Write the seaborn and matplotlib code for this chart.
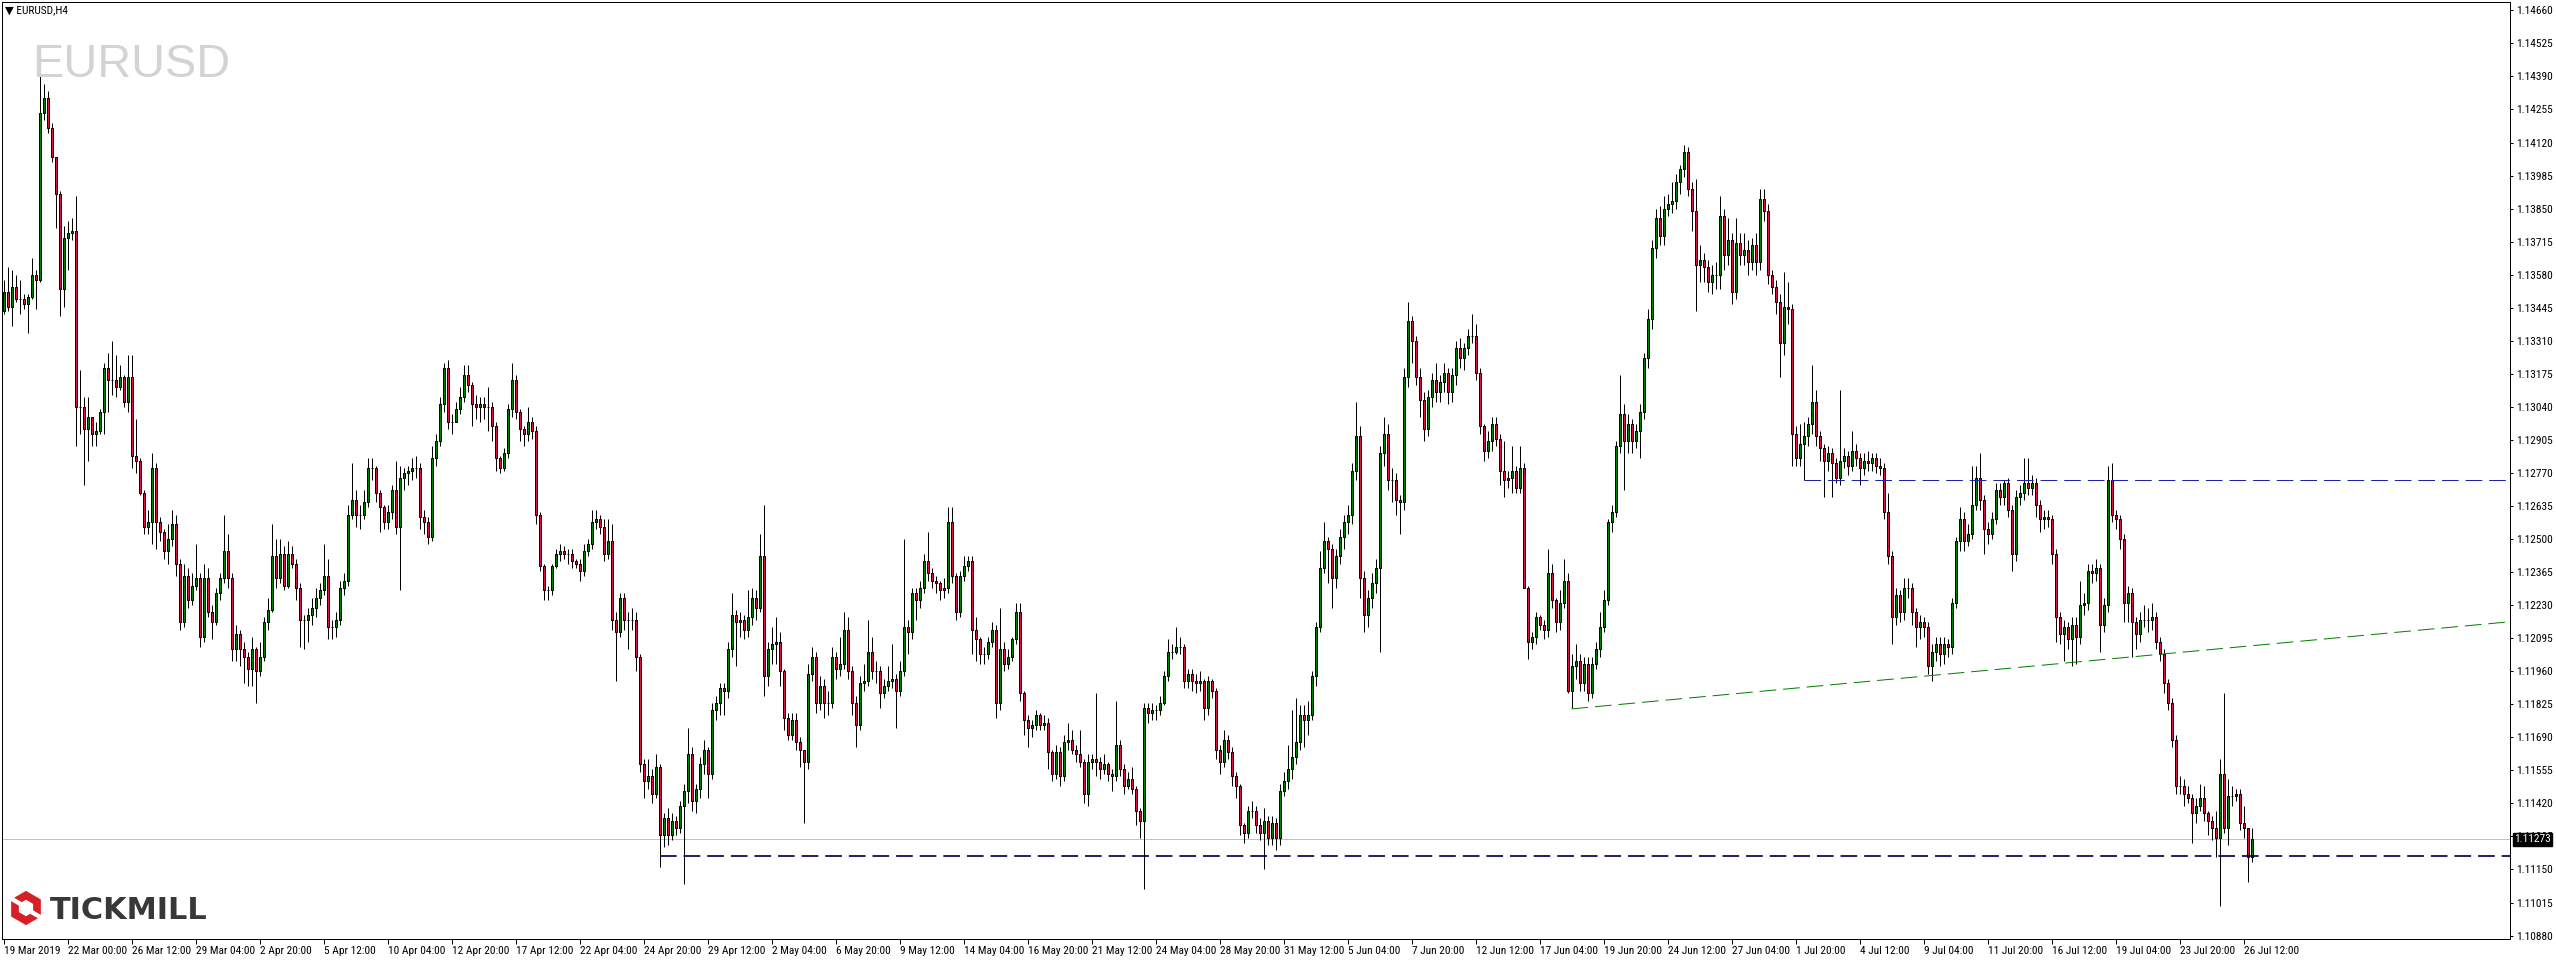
import numpy as np
import pandas as pd
import matplotlib
matplotlib.use("Agg")
import matplotlib.pyplot as plt
import seaborn as sns
from matplotlib import font_manager as fm
from matplotlib.patches import Polygon

# ---------------- data (EURUSD H4) ----------------
first_open = 1.1343
close = [
1.1351,1.1345,1.1353,1.1348,1.1348,1.1346,1.1349,1.1358,1.1356,1.1424,
1.1430,1.1418,1.1406,1.1391,1.1352,1.1373,1.1375,1.1376,1.1304,1.1304,
1.1295,1.1300,1.1293,1.1294,1.1302,1.1320,1.1315,1.1315,1.1312,1.1316,
1.1306,1.1316,1.1284,1.1282,1.1269,1.1255,1.1257,1.1279,1.1257,1.1253,
1.1245,1.1250,1.1256,1.1240,1.1216,1.1235,1.1225,1.1231,1.1234,1.1210,
1.1234,1.1220,1.1216,1.1228,1.1234,1.1245,1.1234,1.1205,1.1211,1.1205,
1.1202,1.1197,1.1205,1.1196,1.1202,1.1216,1.1221,1.1243,1.1234,1.1244,
1.1231,1.1244,1.1240,1.1230,1.1217,1.1217,1.1219,1.1222,1.1226,1.1229,
1.1235,1.1214,1.1214,1.1217,1.1230,1.1233,1.1260,1.1266,1.1260,1.1260,
1.1265,1.1279,1.1279,1.1269,1.1263,1.1257,1.1261,1.1270,1.1255,1.1275,
1.1277,1.1278,1.1279,1.1279,1.1259,1.1257,1.1251,1.1283,1.1290,1.1305,
1.1320,1.1298,1.1298,1.1303,1.1308,1.1317,1.1313,1.1305,1.1304,1.1305,
1.1304,1.1304,1.1296,1.1283,1.1279,1.1285,1.1303,1.1315,1.1302,1.1295,
1.1293,1.1298,1.1294,1.1260,1.1239,1.1229,1.1229,1.1239,1.1244,1.1245,
1.1244,1.1244,1.1241,1.1240,1.1237,1.1245,1.1248,1.1257,1.1258,1.1255,
1.1244,1.1249,1.1217,1.1212,1.1226,1.1217,1.1217,1.1217,1.1202,1.1158,
1.1151,1.1153,1.1146,1.1157,1.1129,1.1136,1.1129,1.1135,1.1132,1.1141,
1.1147,1.1162,1.1143,1.1148,1.1158,1.1164,1.1154,1.1180,1.1183,1.1189,
1.1188,1.1205,1.1219,1.1216,1.1217,1.1213,1.1218,1.1226,1.1222,1.1243,
1.1194,1.1205,1.1207,1.1208,1.1196,1.1177,1.1170,1.1176,1.1167,1.1164,
1.1159,1.1195,1.1202,1.1183,1.1190,1.1183,1.1183,1.1202,1.1197,1.1199,
1.1213,1.1196,1.1183,1.1174,1.1191,1.1192,1.1204,1.1196,1.1196,1.1187,
1.1190,1.1192,1.1193,1.1188,1.1196,1.1214,1.1212,1.1228,1.1225,1.1230,
1.1241,1.1236,1.1233,1.1232,1.1229,1.1230,1.1257,1.1235,1.1220,1.1235,
1.1239,1.1241,1.1213,1.1209,1.1203,1.1203,1.1208,1.1213,1.1183,1.1205,
1.1199,1.1202,1.1209,1.1220,1.1187,1.1176,1.1173,1.1174,1.1178,1.1174,
1.1175,1.1163,1.1154,1.1163,1.1153,1.1167,1.1168,1.1164,1.1162,1.1159,
1.1146,1.1159,1.1160,1.1159,1.1156,1.1158,1.1154,1.1153,1.1166,1.1156,
1.1149,1.1152,1.1148,1.1139,1.1135,1.1181,1.1179,1.1180,1.1180,1.1183,
1.1194,1.1204,1.1204,1.1206,1.1206,1.1192,1.1195,1.1192,1.1191,1.1192,
1.1181,1.1192,1.1188,1.1164,1.1159,1.1168,1.1163,1.1153,1.1149,1.1133,
1.1130,1.1139,1.1139,1.1133,1.1130,1.1135,1.1128,1.1134,1.1128,1.1147,
1.1151,1.1156,1.1161,1.1167,1.1178,1.1176,1.1178,1.1194,1.1214,1.1238,
1.1249,1.1246,1.1234,1.1243,1.1251,1.1257,1.1260,1.1278,1.1292,1.1234,
1.1219,1.1226,1.1232,1.1238,1.1285,1.1293,1.1274,1.1274,1.1266,1.1265,
1.1316,1.1339,1.1331,1.1316,1.1307,1.1295,1.1308,1.1315,1.1310,1.1314,
1.1318,1.1310,1.1317,1.1328,1.1324,1.1328,1.1333,1.1333,1.1318,1.1296,
1.1286,1.1290,1.1297,1.1291,1.1278,1.1274,1.1275,1.1278,1.1271,1.1279,
1.1230,1.1208,1.1210,1.1218,1.1215,1.1213,1.1236,1.1225,1.1216,1.1224,
1.1233,1.1188,1.1198,1.1200,1.1191,1.1199,1.1187,1.1199,1.1205,1.1214,
1.1225,1.1257,1.1261,1.1288,1.1301,1.1290,1.1297,1.1290,1.1294,1.1302,
1.1324,1.1340,1.1369,1.1381,1.1374,1.1385,1.1387,1.1388,1.1396,1.1401,
1.1408,1.1393,1.1384,1.1362,1.1364,1.1361,1.1355,1.1358,1.1358,1.1382,
1.1366,1.1372,1.1351,1.1371,1.1366,1.1368,1.1363,1.1370,1.1363,1.1389,
1.1384,1.1358,1.1353,1.1347,1.1330,1.1345,1.1344,1.1293,1.1283,1.1289,
1.1292,1.1297,1.1306,1.1292,1.1287,1.1282,1.1285,1.1281,1.1275,1.1282,
1.1284,1.1280,1.1286,1.1283,1.1279,1.1282,1.1281,1.1283,1.1280,1.1279,
1.1261,1.1243,1.1218,1.1227,1.1220,1.1230,1.1230,1.1220,1.1214,1.1216,
1.1214,1.1198,1.1204,1.1207,1.1203,1.1207,1.1206,1.1224,1.1249,1.1258,
1.1249,1.1252,1.1264,1.1275,1.1266,1.1254,1.1252,1.1258,1.1270,1.1267,
1.1273,1.1262,1.1244,1.1267,1.1269,1.1273,1.1271,1.1273,1.1264,1.1258,
1.1259,1.1258,1.1244,1.1218,1.1211,1.1214,1.1209,1.1215,1.1210,1.1223,
1.1224,1.1237,1.1236,1.1238,1.1215,1.1223,1.1274,1.1260,1.1258,1.1250,
1.1224,1.1228,1.1216,1.1211,1.1217,1.1217,1.1217,1.1218,1.1208,1.1203,
1.1191,1.1183,1.1168,1.1149,1.1149,1.1146,1.1144,1.1138,1.1141,1.1144,
1.1138,1.1135,1.1132,1.1128,1.1154,1.1132,1.1145,1.1145,1.1146,1.1134,
1.1132,1.1120,1.11273]
high = [
1.1356,1.1361,1.1360,1.1358,1.1356,1.1350,1.1350,1.1365,1.1360,1.1447,
1.1436,1.1433,1.1420,1.1406,1.1392,1.1378,1.1380,1.1381,1.1390,1.1319,
1.1308,1.1308,1.1299,1.1298,1.1303,1.1322,1.1326,1.1331,1.1325,1.1321,
1.1317,1.1325,1.1325,1.1299,1.1283,1.1270,1.1262,1.1285,1.1281,1.1259,
1.1254,1.1256,1.1262,1.1260,1.1242,1.1240,1.1238,1.1236,1.1248,1.1236,
1.1240,1.1238,1.1223,1.1230,1.1236,1.1260,1.1252,1.1236,1.1215,1.1213,
1.1208,1.1204,1.1210,1.1206,1.1208,1.1218,1.1226,1.1256,1.1250,1.1250,
1.1247,1.1249,1.1247,1.1242,1.1232,1.1219,1.1222,1.1226,1.1230,1.1232,
1.1248,1.1242,1.1217,1.1220,1.1233,1.1236,1.1264,1.1281,1.1270,1.1264,
1.1270,1.1283,1.1283,1.1280,1.1270,1.1264,1.1264,1.1272,1.1282,1.1280,
1.1279,1.1280,1.1283,1.1284,1.1281,1.1262,1.1259,1.1288,1.1293,1.1308,
1.1322,1.1323,1.1301,1.1306,1.1312,1.1321,1.1321,1.1314,1.1309,1.1308,
1.1308,1.1312,1.1306,1.1298,1.1284,1.1287,1.1305,1.1322,1.1317,1.1303,
1.1296,1.1304,1.1300,1.1296,1.1261,1.1240,1.1231,1.1240,1.1246,1.1248,
1.1247,1.1246,1.1246,1.1242,1.1242,1.1248,1.1250,1.1262,1.1262,1.1260,
1.1258,1.1258,1.1256,1.1220,1.1228,1.1228,1.1220,1.1222,1.1220,1.1203,
1.1160,1.1160,1.1156,1.1162,1.1158,1.1138,1.1140,1.1138,1.1137,1.1143,
1.1150,1.1173,1.1165,1.1150,1.1161,1.1168,1.1165,1.1183,1.1186,1.1191,
1.1191,1.1208,1.1228,1.1221,1.1220,1.1219,1.1229,1.1230,1.1229,1.1252,
1.1264,1.1208,1.1214,1.1218,1.1212,1.1197,1.1179,1.1179,1.1179,1.1169,
1.1164,1.1199,1.1206,1.1204,1.1194,1.1193,1.1188,1.1206,1.1204,1.1210,
1.1220,1.1218,1.1198,1.1186,1.1194,1.1199,1.1217,1.1210,1.1200,1.1198,
1.1193,1.1198,1.1207,1.1195,1.1200,1.1250,1.1217,1.1230,1.1230,1.1233,
1.1244,1.1253,1.1238,1.1235,1.1233,1.1234,1.1263,1.1263,1.1236,1.1237,
1.1243,1.1243,1.1243,1.1218,1.1210,1.1206,1.1210,1.1216,1.1215,1.1222,
1.1208,1.1205,1.1210,1.1224,1.1224,1.1188,1.1178,1.1176,1.1180,1.1179,
1.1178,1.1177,1.1164,1.1166,1.1165,1.1170,1.1175,1.1172,1.1166,1.1172,
1.1160,1.1162,1.1162,1.1187,1.1161,1.1162,1.1159,1.1156,1.1184,1.1168,
1.1158,1.1155,1.1157,1.1149,1.1140,1.1183,1.1183,1.1183,1.1182,1.1186,
1.1196,1.1209,1.1207,1.1214,1.1210,1.1207,1.1197,1.1197,1.1195,1.1196,
1.1193,1.1194,1.1193,1.1189,1.1166,1.1172,1.1170,1.1165,1.1155,1.1150,
1.1134,1.1141,1.1143,1.1141,1.1136,1.1140,1.1137,1.1137,1.1136,1.1150,
1.1155,1.1166,1.1180,1.1185,1.1182,1.1182,1.1184,1.1196,1.1216,1.1245,
1.1257,1.1251,1.1248,1.1246,1.1254,1.1260,1.1264,1.1281,1.1306,1.1296,
1.1237,1.1229,1.1236,1.1242,1.1288,1.1300,1.1297,1.1279,1.1277,1.1268,
1.1320,1.1347,1.1341,1.1333,1.1320,1.1310,1.1311,1.1318,1.1322,1.1317,
1.1322,1.1320,1.1320,1.1331,1.1332,1.1330,1.1336,1.1342,1.1338,1.1320,
1.1297,1.1294,1.1300,1.1300,1.1293,1.1290,1.1278,1.1288,1.1280,1.1288,
1.1281,1.1231,1.1212,1.1220,1.1219,1.1217,1.1246,1.1240,1.1226,1.1229,
1.1242,1.1236,1.1203,1.1207,1.1203,1.1202,1.1202,1.1202,1.1208,1.1220,
1.1229,1.1258,1.1264,1.1290,1.1317,1.1305,1.1301,1.1299,1.1297,1.1305,
1.1326,1.1344,1.1372,1.1385,1.1386,1.1390,1.1391,1.1396,1.1399,1.1403,
1.1411,1.1410,1.1396,1.1397,1.1370,1.1367,1.1364,1.1362,1.1363,1.1390,
1.1385,1.1381,1.1375,1.1381,1.1375,1.1375,1.1372,1.1373,1.1375,1.1393,
1.1393,1.1387,1.1360,1.1356,1.1350,1.1359,1.1355,1.1346,1.1296,1.1297,
1.1298,1.1300,1.1321,1.1311,1.1294,1.1289,1.1288,1.1287,1.1283,1.1311,
1.1287,1.1286,1.1294,1.1289,1.1285,1.1285,1.1286,1.1285,1.1285,1.1283,
1.1281,1.1269,1.1245,1.1230,1.1229,1.1234,1.1234,1.1232,1.1222,1.1219,
1.1218,1.1216,1.1207,1.1210,1.1210,1.1210,1.1209,1.1226,1.1251,1.1263,
1.1261,1.1256,1.1280,1.1280,1.1285,1.1268,1.1257,1.1261,1.1273,1.1273,
1.1274,1.1275,1.1264,1.1270,1.1272,1.1283,1.1283,1.1276,1.1275,1.1266,
1.1262,1.1262,1.1260,1.1246,1.1220,1.1217,1.1216,1.1218,1.1218,1.1233,
1.1228,1.1240,1.1240,1.1242,1.1240,1.1226,1.1280,1.1281,1.1262,1.1260,
1.1252,1.1231,1.1230,1.1218,1.1220,1.1223,1.1222,1.1224,1.1220,1.1210,
1.1205,1.1193,1.1185,1.1170,1.1153,1.1152,1.1149,1.1146,1.1144,1.1150,
1.1149,1.1139,1.1137,1.1139,1.1160,1.1187,1.1152,1.1149,1.1148,1.1148,
1.1141,1.1132,1.1132]
low = [
1.1342,1.1343,1.1337,1.1347,1.1342,1.1344,1.1334,1.1348,1.1344,1.1355,
1.1421,1.1416,1.1404,1.1377,1.1341,1.1345,1.1360,1.1372,1.1288,1.1293,
1.1272,1.1282,1.1288,1.1288,1.1293,1.1293,1.1302,1.1309,1.1308,1.1311,
1.1304,1.1302,1.1279,1.1277,1.1268,1.1252,1.1252,1.1248,1.1246,1.1249,
1.1242,1.1240,1.1247,1.1235,1.1213,1.1214,1.1222,1.1223,1.1229,1.1206,
1.1208,1.1218,1.1209,1.1215,1.1225,1.1232,1.1230,1.1200,1.1200,1.1198,
1.1191,1.1190,1.1190,1.1183,1.1194,1.1200,1.1213,1.1220,1.1230,1.1232,
1.1229,1.1230,1.1238,1.1225,1.1206,1.1205,1.1208,1.1215,1.1218,1.1223,
1.1227,1.1209,1.1209,1.1210,1.1215,1.1227,1.1231,1.1258,1.1255,1.1254,
1.1258,1.1263,1.1274,1.1265,1.1253,1.1254,1.1254,1.1258,1.1252,1.1229,
1.1270,1.1272,1.1274,1.1275,1.1254,1.1252,1.1248,1.1249,1.1280,1.1288,
1.1302,1.1295,1.1293,1.1299,1.1301,1.1306,1.1310,1.1296,1.1299,1.1298,
1.1299,1.1294,1.1290,1.1278,1.1277,1.1278,1.1283,1.1300,1.1299,1.1290,
1.1288,1.1290,1.1291,1.1256,1.1237,1.1225,1.1225,1.1227,1.1238,1.1241,
1.1242,1.1240,1.1238,1.1238,1.1233,1.1235,1.1243,1.1246,1.1254,1.1252,
1.1241,1.1242,1.1213,1.1192,1.1210,1.1213,1.1205,1.1213,1.1196,1.1155,
1.1144,1.1148,1.1142,1.1144,1.1116,1.1124,1.1125,1.1127,1.1129,1.1130,
1.1109,1.1142,1.1139,1.1138,1.1144,1.1154,1.1144,1.1152,1.1176,1.1178,
1.1178,1.1185,1.1202,1.1198,1.1210,1.1209,1.1210,1.1215,1.1217,1.1220,
1.1186,1.1190,1.1199,1.1199,1.1190,1.1172,1.1168,1.1168,1.1164,1.1157,
1.1134,1.1156,1.1192,1.1179,1.1180,1.1177,1.1178,1.1181,1.1193,1.1194,
1.1197,1.1193,1.1178,1.1165,1.1172,1.1188,1.1190,1.1193,1.1191,1.1181,
1.1185,1.1188,1.1189,1.1173,1.1186,1.1194,1.1203,1.1209,1.1217,1.1222,
1.1228,1.1233,1.1230,1.1228,1.1225,1.1226,1.1228,1.1232,1.1217,1.1218,
1.1233,1.1237,1.1203,1.1200,1.1199,1.1199,1.1201,1.1206,1.1177,1.1180,
1.1196,1.1197,1.1200,1.1207,1.1184,1.1170,1.1165,1.1169,1.1172,1.1172,
1.1172,1.1156,1.1151,1.1152,1.1149,1.1151,1.1164,1.1162,1.1159,1.1157,
1.1142,1.1141,1.1156,1.1153,1.1152,1.1154,1.1151,1.1147,1.1151,1.1153,
1.1146,1.1148,1.1146,1.1133,1.1128,1.1107,1.1175,1.1176,1.1176,1.1178,
1.1182,1.1192,1.1201,1.1203,1.1203,1.1189,1.1189,1.1188,1.1187,1.1188,
1.1176,1.1178,1.1185,1.1160,1.1154,1.1157,1.1160,1.1149,1.1144,1.1129,
1.1126,1.1128,1.1136,1.1130,1.1127,1.1115,1.1125,1.1125,1.1123,1.1125,
1.1145,1.1148,1.1152,1.1158,1.1164,1.1165,1.1170,1.1176,1.1190,1.1212,
1.1236,1.1232,1.1222,1.1230,1.1240,1.1246,1.1252,1.1256,1.1274,1.1226,
1.1212,1.1214,1.1222,1.1228,1.1204,1.1280,1.1270,1.1265,1.1260,1.1252,
1.1262,1.1312,1.1322,1.1313,1.1300,1.1290,1.1292,1.1304,1.1306,1.1306,
1.1310,1.1305,1.1306,1.1313,1.1320,1.1319,1.1325,1.1330,1.1315,1.1293,
1.1282,1.1283,1.1286,1.1288,1.1272,1.1267,1.1271,1.1269,1.1269,1.1269,
1.1230,1.1201,1.1205,1.1207,1.1213,1.1209,1.1210,1.1222,1.1212,1.1213,
1.1222,1.1187,1.1181,1.1193,1.1188,1.1188,1.1184,1.1185,1.1197,1.1202,
1.1212,1.1223,1.1253,1.1259,1.1285,1.1270,1.1285,1.1285,1.1287,1.1283,
1.1299,1.1320,1.1336,1.1365,1.1370,1.1370,1.1382,1.1383,1.1385,1.1391,
1.1398,1.1390,1.1376,1.1343,1.1355,1.1355,1.1351,1.1350,1.1352,1.1352,
1.1360,1.1362,1.1346,1.1348,1.1362,1.1362,1.1358,1.1360,1.1358,1.1360,
1.1380,1.1354,1.1350,1.1342,1.1316,1.1325,1.1338,1.1280,1.1280,1.1280,
1.1274,1.1288,1.1293,1.1288,1.1282,1.1267,1.1278,1.1267,1.1273,1.1272,
1.1279,1.1276,1.1278,1.1280,1.1272,1.1276,1.1278,1.1278,1.1277,1.1276,
1.1258,1.1240,1.1207,1.1215,1.1216,1.1217,1.1226,1.1215,1.1206,1.1209,
1.1210,1.1195,1.1192,1.1200,1.1198,1.1199,1.1202,1.1203,1.1222,1.1245,
1.1245,1.1247,1.1250,1.1262,1.1262,1.1244,1.1248,1.1250,1.1256,1.1264,
1.1264,1.1259,1.1237,1.1241,1.1264,1.1266,1.1268,1.1268,1.1259,1.1253,
1.1254,1.1255,1.1240,1.1208,1.1207,1.1200,1.1205,1.1198,1.1199,1.1207,
1.1219,1.1221,1.1232,1.1233,1.1204,1.1212,1.1220,1.1257,1.1254,1.1246,
1.1216,1.1216,1.1202,1.1205,1.1208,1.1214,1.1212,1.1213,1.1205,1.1200,
1.1187,1.1180,1.1165,1.1146,1.1146,1.1141,1.1142,1.1126,1.1134,1.1139,
1.1135,1.1129,1.1127,1.1120,1.1100,1.1130,1.1125,1.1141,1.1143,1.1131,
1.1128,1.1110,1.1118]

date_labels = ["19 Mar 2019", "22 Mar 00:00", "26 Mar 12:00", "29 Mar 04:00", "2 Apr 20:00",
               "5 Apr 12:00", "10 Apr 04:00", "12 Apr 20:00", "17 Apr 12:00", "22 Apr 04:00",
               "24 Apr 20:00", "29 Apr 12:00", "2 May 04:00", "6 May 20:00", "9 May 12:00",
               "14 May 04:00", "16 May 20:00", "21 May 12:00", "24 May 04:00", "28 May 20:00",
               "31 May 12:00", "5 Jun 04:00", "7 Jun 20:00", "12 Jun 12:00", "17 Jun 04:00",
               "19 Jun 20:00", "24 Jun 12:00", "27 Jun 04:00", "1 Jul 20:00", "4 Jul 12:00",
               "9 Jul 04:00", "11 Jul 20:00", "16 Jul 12:00", "19 Jul 04:00", "23 Jul 20:00",
               "26 Jul 12:00"]
bars_per_label = 16
price_ticks = [1.10880, 1.11015, 1.11150, 1.11285, 1.11420, 1.11555, 1.11690, 1.11825,
               1.11960, 1.12095, 1.12230, 1.12365, 1.12500, 1.12635, 1.12770, 1.12905,
               1.13040, 1.13175, 1.13310, 1.13445, 1.13580, 1.13715, 1.13850, 1.13985,
               1.14120, 1.14255, 1.14390, 1.14525, 1.14660]
bid_price = 1.11273
support_level, support_from = 1.11205, 164
resist_level, resist_from = 1.12743, 450
trend_from_bar, trend_from_price = 392, 1.11806
trend_to_bar, trend_to_price = 626.6, 1.12162
symbol = "EURUSD"
caption = "\u25bc EURUSD,H4"
brand = "TICKMILL"

# ---------------- style ----------------
sns.set_theme(style="white")
avail = {f.name for f in fm.fontManager.ttflist}
narrow_font = None
for nm in ["Liberation Sans Narrow", "DejaVu Sans Condensed", "Roboto Condensed"]:
    if nm in avail:
        narrow_font = nm
        break
if narrow_font is None:
    narrow_font = "Liberation Sans" if "Liberation Sans" in avail else "DejaVu Sans"
    fs = 7.0
else:
    fs = 8.2
plt.rcParams["font.family"] = [narrow_font, "DejaVu Sans"]
plt.rcParams["lines.scale_dashes"] = False
PX = 0.72  # one pixel in points at dpi 100

W, H = 2556, 960
fig = plt.figure(figsize=(W / 100, H / 100), dpi=100, facecolor="white")
L_, R_, T_, B_ = 2, 2510, 2, 939
ax = fig.add_axes([L_ / W, 1 - B_ / H, (R_ - L_) / W, (B_ - T_) / H])
ax.set_facecolor("white")

n = min(len(close), len(high), len(low))
c = np.array(close[:n])
o = np.r_[first_open, c[:-1]]
h = np.maximum(np.array(high[:n]), np.maximum(o, c))
lo = np.minimum(np.array(low[:n]), np.minimum(o, c))
df = pd.DataFrame({"bar": np.arange(n), "open": o, "high": h, "low": lo, "close": c})
df["up"] = df["close"] >= df["open"]

xmin, xmax = -0.375, 626.625
ymin, ymax = 1.10866, 1.14694
ax.set_xlim(xmin, xmax)
ax.set_ylim(ymin, ymax)

# bid line (seaborn)
sns.lineplot(x=[xmin, xmax], y=[bid_price, bid_price], ax=ax, color="#c0c0c0",
             linewidth=PX, zorder=1, legend=False)

# wicks and bodies
ax.vlines(df["bar"], df["low"], df["high"], color="black", linewidth=PX, zorder=2)
colors = np.where(df["up"], "#008000", "#DC143C")
ax.bar(df["bar"], df["close"] - df["open"], bottom=df["open"], width=0.5,
       color=colors, edgecolor="black", linewidth=PX, zorder=3)

# annotation lines
dash = (0, (12, 5))
ax.plot([support_from, xmax], [support_level, support_level], color="#000050",
        linewidth=1.7 * PX, linestyle=dash, zorder=4)
ax.plot([resist_from, xmax], [resist_level, resist_level], color="#2020b0",
        linewidth=PX, linestyle=dash, zorder=4)
ax.plot([trend_from_bar, trend_to_bar], [trend_from_price, trend_to_price], color="#008000",
        linewidth=PX, linestyle=dash, zorder=4)

# axes cosmetics
for sp in ax.spines.values():
    sp.set_visible(True)
    sp.set_color("black")
    sp.set_linewidth(PX)
ax.grid(False)
ax.yaxis.tick_right()
ax.set_yticks(price_ticks)
ax.set_yticklabels([f"{v:.5f}" for v in price_ticks])
ax.tick_params(axis="y", direction="out", length=3 * PX, width=PX, pad=2,
               labelsize=fs, colors="black", right=True, left=False)
xt = [k * bars_per_label for k in range(len(date_labels))]
ax.set_xticks(xt)
ax.set_xticklabels(date_labels)
for lbl in ax.get_xticklabels():
    lbl.set_horizontalalignment("left")
ax.tick_params(axis="x", direction="out", length=5 * PX, width=PX, pad=1.5,
               labelsize=fs, colors="black", bottom=True)
ax.set_xlabel("")
ax.set_ylabel("")

# bid price label
ax.annotate(f"{bid_price:.5f}", xy=(1, bid_price), xycoords=("axes fraction", "data"),
            xytext=(4, 0), textcoords="offset pixels", ha="left", va="center",
            fontsize=fs, color="white", zorder=10, annotation_clip=False,
            bbox=dict(boxstyle="square,pad=0.12", fc="black", ec="black"))

# caption and watermark
fig.text(5 / W, 1 - 10.5 / H, caption, ha="left", va="center", fontsize=fs, color="black")
wm_font = "Liberation Sans" if "Liberation Sans" in avail else "DejaVu Sans"
wm = fig.text(32 / W, 1 - 77 / H, symbol, ha="left", va="baseline", fontsize=34,
              color="#d3d3d3", family=wm_font, zorder=0)

# logo
logo_t = fig.text(50 / W, 1 - 919 / H, brand, ha="left", va="baseline", fontsize=22,
                  fontweight="bold", color="#383838", family="DejaVu Sans")
fig.canvas.draw()
rend = fig.canvas.get_renderer()
w_now = logo_t.get_window_extent(rend).width
logo_t.set_fontsize(22 * 158 / w_now)
w_now = wm.get_window_extent(rend).width
wm.set_fontsize(34 * 198 / w_now)

iax = fig.add_axes([8 / W, 1 - 928 / H, 36 / W, 40 / H])
iax.set_xlim(-1.05, 1.05)
iax.set_ylim(-1.05, 1.05)
iax.set_aspect("equal")
iax.axis("off")
ang = np.deg2rad(np.arange(90, 450, 60))
iax.add_patch(Polygon(np.c_[np.cos(ang), np.sin(ang)], closed=True, fc="#d71f26", ec="none"))
iax.add_patch(Polygon(np.c_[0.48 * np.cos(ang), 0.48 * np.sin(ang)], closed=True, fc="white", ec="none"))
iax.plot([-0.95, -0.3], [0.6, 0.22], color="white", linewidth=3.2, solid_capstyle="butt")
iax.plot([0.3, 0.95], [-0.22, -0.6], color="white", linewidth=3.2, solid_capstyle="butt")

fig.savefig("out.png", dpi=100, facecolor="white")
